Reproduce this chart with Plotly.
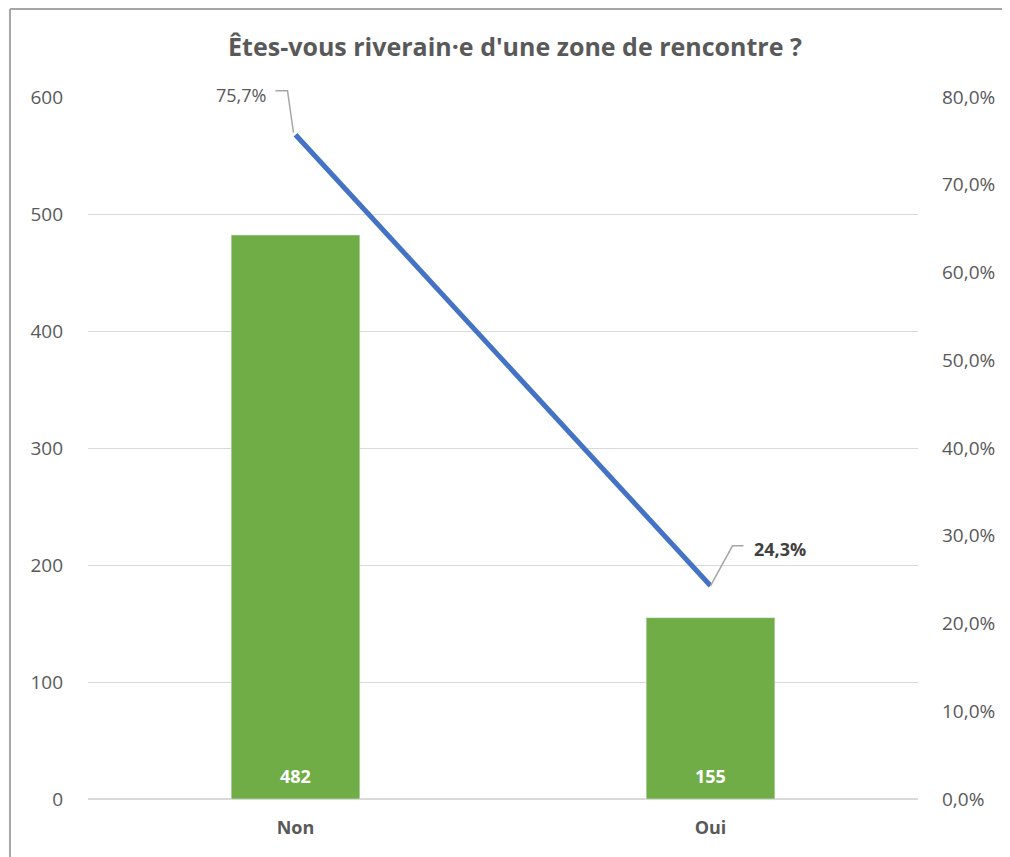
import plotly.graph_objects as go

# Données du graphique
categories = ['Non', 'Oui']
effectifs = [482, 155]
pourcentages = [0.757, 0.243]

gris = '#595959'
police = 'Open Sans'
max_pct = 0.8

fig = go.Figure()

fig.add_trace(go.Bar(
    x=categories, y=effectifs, marker_color='#70AD47', width=0.31,
    showlegend=False))

fig.add_trace(go.Scatter(
    x=categories, y=pourcentages, yaxis='y2', mode='lines',
    line=dict(color='#4472C4', width=5), showlegend=False))

# Effectifs en bas des barres
for cat, val in zip(categories, effectifs):
    fig.add_annotation(x=cat, y=0, xref='x', yref='y', text=f'<b>{val}</b>',
                       showarrow=False, yanchor='middle', yshift=23,
                       font=dict(size=18, color='white', family=police))

# Étiquettes de pourcentage avec lignes de rappel
etiquettes = [f"{p * 100:.1f}%".replace('.', ',') for p in pourcentages]
fig.add_annotation(x=categories[0], y=pourcentages[0], xref='x', yref='y2',
                   text=etiquettes[0], showarrow=False, xanchor='right',
                   xshift=-28, yshift=40,
                   font=dict(size=18, color=gris, family=police))
fig.add_annotation(x=categories[1], y=pourcentages[1], xref='x', yref='y2',
                   text='<b>' + etiquettes[1] + '</b>', showarrow=False,
                   xanchor='left', xshift=41, yshift=37,
                   font=dict(size=18, color='#404040', family=police))
# yref paper pour que la ligne ne soit pas coupée au bord du graphique
fig.add_shape(type='path', xref='x', yref='paper', xsizemode='pixel',
              ysizemode='pixel', xanchor=categories[0],
              yanchor=pourcentages[0] / max_pct,
              path='M -2,2 L -8,44 L -20,44', line=dict(color='#A6A6A6', width=1.5))
fig.add_shape(type='path', xref='x', yref='paper', xsizemode='pixel',
              ysizemode='pixel', xanchor=categories[1],
              yanchor=pourcentages[1] / max_pct,
              path='M 0,0 L 22,40 L 33,40', line=dict(color='#A6A6A6', width=1.5))

# Cadre du graphique
fig.add_shape(type='line', xref='paper', yref='paper', x0=-0.094, x1=1.12,
              y0=1.1254, y1=1.1254, line=dict(color='#A6A6A6', width=2))
fig.add_shape(type='line', xref='paper', yref='paper', x0=-0.094, x1=-0.094,
              y0=1.1254, y1=-0.09, line=dict(color='#A6A6A6', width=2))

# la page ajoute une marge de 8 px autour de la figure
fig.update_layout(
    width=1002, height=849,
    margin=dict(l=80, r=92, t=89, b=58),
    paper_bgcolor='white', plot_bgcolor='white',
    separators=', ',
    title=dict(text="<b>Êtes-vous riverain·e d'une zone de rencontre ?</b>",
               x=0.506, xanchor='center', y=0.954, yanchor='middle',
               font=dict(size=25, color=gris, family=police)),
    font=dict(family=police, color=gris),
    xaxis=dict(tickfont=dict(size=18, color=gris, family=police, weight='bold'),
               showline=False, ticks='', ticklabelstandoff=16),
    yaxis=dict(range=[0, 600], dtick=100, showgrid=True, gridcolor='#D9D9D9',
               gridwidth=1, zeroline=True, zerolinecolor='#D9D9D9',
               tickfont=dict(size=19, color=gris), ticklabelstandoff=24),
    yaxis2=dict(range=[0, max_pct], dtick=0.1, tickformat='.1%', overlaying='y',
                side='right', showgrid=False, zeroline=False,
                tickfont=dict(size=19, color=gris), ticklabelstandoff=23),
)

fig.write_html('out.html')
